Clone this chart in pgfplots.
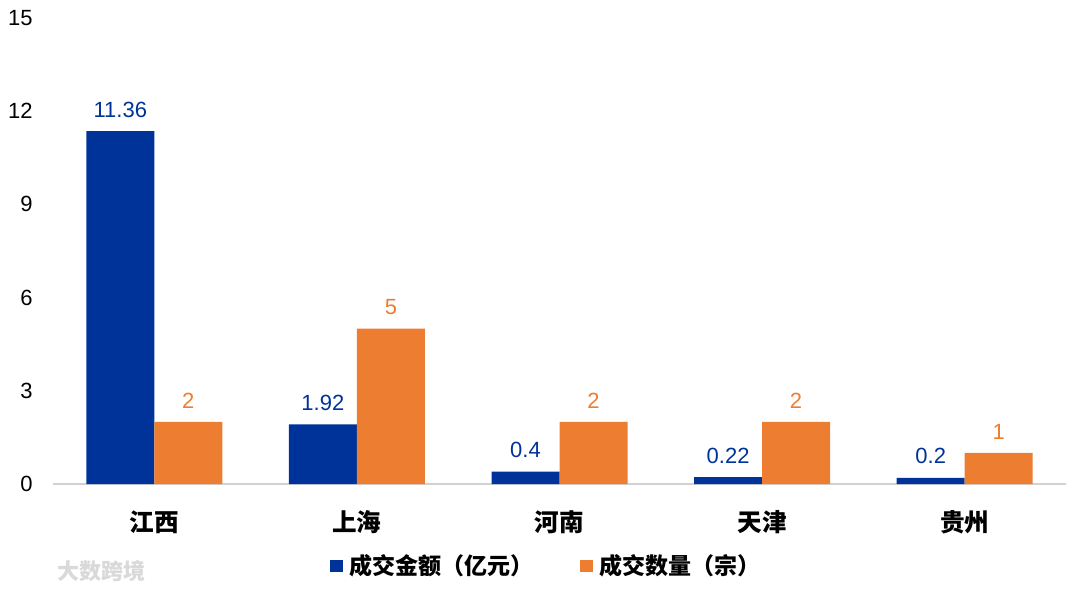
\documentclass[border=0pt]{standalone}
\usepackage{pgfplots}
\pgfplotsset{compat=1.18}
\usepackage{fontspec}
\setmainfont{Liberation Sans}
\newfontfamily\cjk{Noto Sans CJK SC}
\definecolor{cblue}{RGB}{0,51,153}
\definecolor{corange}{RGB}{237,125,49}
\begin{document}
\begin{tikzpicture}
\begin{axis}[
  at={(26.5pt,53.5pt)}, anchor=south west,
  scale only axis, width=506.5pt, height=233pt,
  ybar=0pt, bar width=34pt,
  xmin=-0.5, xmax=4.5, ymin=0, ymax=15,
  xtick={0,1,2,3,4},
  xticklabels={江西,上海,河南,天津,贵州},
  ytick={0,3,6,9,12,15},
  axis x line*=bottom, axis y line*=left,
  x axis line style={draw=gray!35, line width=0.8pt, -},
  y axis line style={draw=none},
  major tick length=0pt,
  xticklabel style={anchor=center, yshift=-19pt, font=\cjk\bfseries\fontsize{12.3}{14}\selectfont},
  yticklabel style={anchor=east, inner sep=0pt, xshift=-10pt, font=\fontsize{11}{13}\selectfont},
  /pgf/number format/assume math mode=true,
  nodes near coords,
  every node near coord/.append style={inner sep=0pt, yshift=6.6pt, font=\fontsize{11}{13}\selectfont},
  point meta=explicit symbolic,
  legend columns=2,
  legend style={draw=none, at={(0.488,-0.176)}, anchor=center,
    font=\cjk\bfseries\fontsize{11.5}{13}\selectfont,
    /tikz/every even column/.append style={column sep=21pt},
    /tikz/every odd column/.append style={column sep=1.5pt},
    inner sep=0pt},
  legend image code/.code={\fill[#1,draw=none] (0pt,-3.2pt) rectangle (6.4pt,3.2pt);},
  clip=false,
]
\addplot[fill=cblue, draw=none, nodes near coords style={text=cblue}] coordinates {
  (0,11.36)[11.36] (1,1.92)[1.92] (2,0.4)[0.4] (3,0.22)[0.22] (4,0.2)[0.2]};
\addplot[fill=corange, draw=none, nodes near coords style={text=corange}] coordinates {
  (0,2)[2] (1,5)[5] (2,2)[2] (3,2)[2] (4,1)[1]};
\legend{成交金额（亿元）,成交数量（宗）}
\end{axis}
\node[anchor=west, text=gray!30, font=\cjk\bfseries\fontsize{11}{13}\selectfont] at (25pt,10pt) {大数跨境};
\pgfresetboundingbox
\useasboundingbox (0,0) rectangle (540pt,295.5pt);
\end{tikzpicture}
\end{document}
